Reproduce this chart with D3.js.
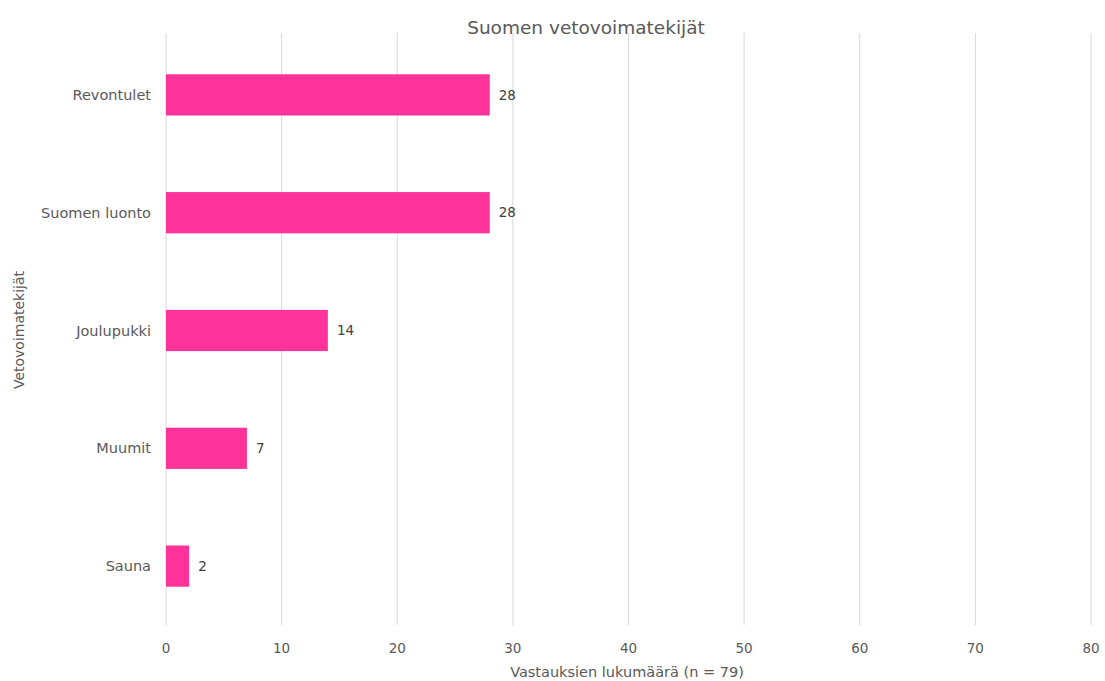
<!DOCTYPE html>
<html>
<head>
<meta charset="utf-8">
<script src="https://cdn.jsdelivr.net/npm/d3@7"></script>
<style>
  html, body { margin: 0; padding: 0; background: #fff; }
  svg text { font-family: "DejaVu Sans", Verdana, sans-serif; }
</style>
</head>
<body>
<svg id="chart" width="1105" height="681"></svg>
<script>
// Vetovoimatekijät ja vastausten lukumäärät
const categories = ["Revontulet", "Suomen luonto", "Joulupukki", "Muumit", "Sauna"];
const values = [28, 28, 14, 7, 2];
const xTicks = [0, 10, 20, 30, 40, 50, 60, 70, 80];

const svg = d3.select("#chart");
const plotLeft = 166, plotRight = 1091, plotTop = 36, plotBottom = 625;

const x = d3.scaleLinear().domain([0, 80]).range([plotLeft, plotRight]);
const y = d3.scaleBand().domain(categories).range([plotTop, plotBottom])
  .paddingInner(0.65).paddingOuter(0.325);

// vertical gridlines
svg.append("g").selectAll("line").data(xTicks).join("line")
  .attr("x1", d => x(d)).attr("x2", d => x(d))
  .attr("y1", plotTop - 3).attr("y2", plotBottom)
  .attr("stroke", "#d9d9d9").attr("stroke-width", 1);

// x tick labels
svg.append("g").selectAll("text").data(xTicks).join("text")
  .attr("x", d => x(d)).attr("y", 653)
  .attr("text-anchor", "middle")
  .attr("font-size", 13.5).attr("fill", "#595959")
  .text(d => d);

// bars
svg.append("g").selectAll("rect").data(categories).join("rect")
  .attr("x", x(0))
  .attr("y", d => y(d))
  .attr("width", (d, i) => x(values[i]) - x(0))
  .attr("height", y.bandwidth())
  .attr("fill", "#ff3399");

// value labels
svg.append("g").selectAll("text").data(categories).join("text")
  .attr("x", (d, i) => x(values[i]) + 9)
  .attr("y", d => y(d) + y.bandwidth() / 2)
  .attr("dy", "0.35em")
  .attr("font-size", 13.5).attr("fill", "#404040")
  .text((d, i) => values[i]);

// category labels
svg.append("g").selectAll("text").data(categories).join("text")
  .attr("x", 151)
  .attr("y", d => y(d) + y.bandwidth() / 2)
  .attr("dy", "0.35em")
  .attr("text-anchor", "end")
  .attr("font-size", 14.5).attr("fill", "#595959")
  .text(d => d);

// title
svg.append("text")
  .attr("x", 586).attr("y", 34)
  .attr("text-anchor", "middle")
  .attr("font-size", 18.5).attr("fill", "#595959")
  .text("Suomen vetovoimatekijät");

// axis titles
svg.append("text")
  .attr("x", 627).attr("y", 677)
  .attr("text-anchor", "middle")
  .attr("font-size", 14.5).attr("fill", "#595959")
  .text("Vastauksien lukumäärä (n = 79)");

svg.append("text")
  .attr("transform", "translate(24,330) rotate(-90)")
  .attr("text-anchor", "middle")
  .attr("font-size", 14).attr("fill", "#595959")
  .text("Vetovoimatekijät");
</script>
</body>
</html>
